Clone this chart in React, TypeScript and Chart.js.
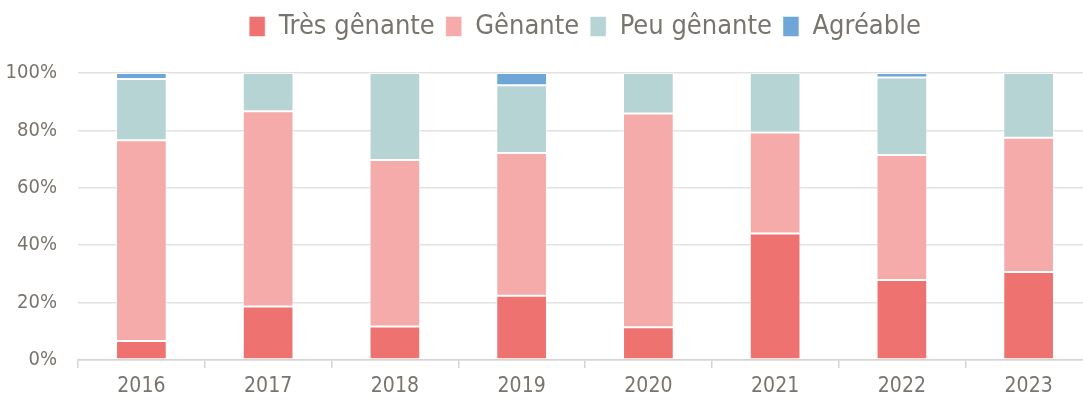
import React, { useEffect, useRef } from "react";
import { Chart, registerables } from "chart.js";

Chart.register(...registerables);

const years = ["2016", "2017", "2018", "2019", "2020", "2021", "2022", "2023"];
const tresGenante = [6.6, 18.6, 11.7, 22.4, 11.4, 44.1, 27.9, 30.7];
const genante = [70.0, 68.1, 58.0, 49.7, 74.5, 35.2, 43.5, 46.7];
const peuGenante = [21.3, 13.3, 30.3, 23.6, 14.1, 20.7, 27.0, 22.6];
const agreable = [2.1, 0, 0, 4.3, 0, 0, 1.6, 0];
const yTicks = [0, 20, 40, 60, 80, 100];

const FONT = "'Liberation Sans Narrow', 'Arial Narrow', 'DejaVu Sans Condensed', sans-serif";
const TEXT = "#7a746e";

export default function App() {
  const ref = useRef<HTMLCanvasElement | null>(null);

  useEffect(() => {
    if (!ref.current) return;
    const mk = (label: string, data: number[], color: string) => ({
      label,
      data,
      backgroundColor: color,
      borderColor: "rgba(255,255,255,0.5)",
      borderWidth: 1,
      borderSkipped: false as const,
      categoryPercentage: 1,
      barPercentage: 0.4,
    });
    const chart = new Chart(ref.current, {
      type: "bar",
      data: {
        labels: years,
        datasets: [
          mk("Très gênante", tresGenante, "#ee7270"),
          mk("Gênante", genante, "#f4abaa"),
          mk("Peu gênante", peuGenante, "#b5d4d3"),
          mk("Agréable", agreable, "#6fa6d8"),
        ],
      },
      options: {
        responsive: false,
        animation: false,
        devicePixelRatio: 1,
        layout: { padding: { top: 2, right: 0, left: 0, bottom: 0 } },
        plugins: {
          tooltip: { enabled: false },
          legend: {
            position: "top",
            fullSize: false,
            weight: 3000,
            labels: {
              color: TEXT,
              font: { family: FONT, size: 27 },
              boxWidth: 16,
              boxHeight: 20,
              padding: 11,
            },
          } as any,
          title: {
            display: true,
            text: "",
            position: "top",
            fullSize: false,
            weight: 100,
            font: { size: 1, lineHeight: 1 },
            padding: { top: 22, bottom: 0 },
          } as any,
        },
        scales: {
          x: {
            stacked: true,
            afterFit: (s: any) => {
              s.height = 43;
            },
            grid: {
              display: true,
              drawOnChartArea: false,
              drawTicks: true,
              tickLength: 8,
              color: "#d4d4d4",
              lineWidth: 1.5,
            },
            border: { display: true, color: "#d4d4d4", width: 1.5 },
            ticks: { color: TEXT, font: { family: FONT, size: 21 }, padding: 6 },
          },
          y: {
            stacked: true,
            min: 0,
            max: 100,
            afterFit: (s: any) => {
              s.width = 78;
            },
            afterBuildTicks: (s: any) => {
              s.ticks = yTicks.map((v) => ({ value: v }));
            },
            grid: { color: "#e2e2e2", lineWidth: 1.5, drawTicks: false },
            border: { display: false },
            ticks: {
              color: TEXT,
              font: { family: FONT, size: 20 },
              padding: 21,
              callback: (v: any) => v + "%",
            },
          },
        },
      },
    });
    return () => chart.destroy();
  }, []);

  return (
    <div
      style={{
        position: "fixed",
        left: 0,
        top: 0,
        width: 1083,
        height: 403,
        overflow: "hidden",
        background: "#fff",
      }}
    >
      <canvas ref={ref} width={1092} height={403} style={{ display: "block" }} />
    </div>
  );
}
